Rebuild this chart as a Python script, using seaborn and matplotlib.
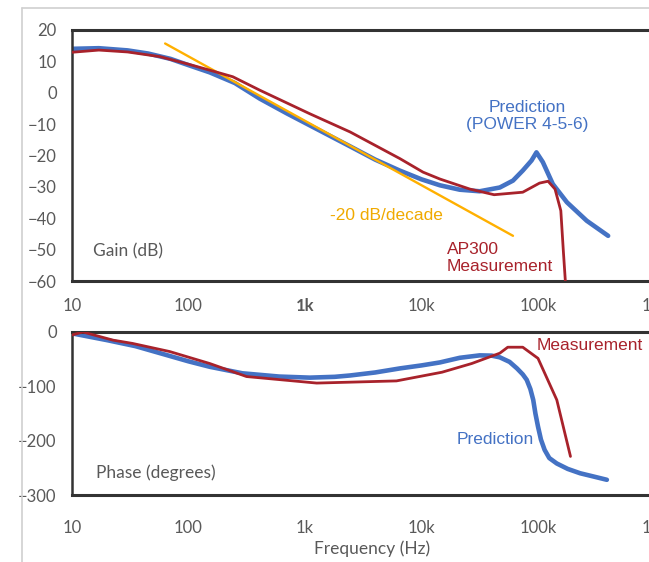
import numpy as np
import pandas as pd
import matplotlib
matplotlib.use("Agg")
import matplotlib.pyplot as plt
from matplotlib.lines import Line2D
import seaborn as sns

# ---------------- data ----------------
gain_pred_f = [10, 17, 30, 45, 70, 100, 152, 250, 410, 700, 1100, 2500, 4000, 6500, 10000, 14400,
               21300, 31600, 47000, 61000, 74000, 88000, 97000, 110000, 134000, 177000, 262000, 400000]
gain_pred_db = [14, 14.2, 13.5, 12.5, 10.8, 8.8, 6.5, 3.1, -1.9, -6.6, -10.4, -17.3, -21.3, -24.8, -27.6, -29.5,
                -30.9, -31.4, -30.2, -28.0, -24.8, -21.6, -19.0, -22.1, -29.1, -34.9, -40.8, -45.6]

gain_meas_f = [10, 17, 30, 57, 100, 152, 240, 410, 1100, 2440, 6530, 10300, 14400, 26000, 42000,
               74000, 103000, 122000, 140000, 157000, 165000, 176000]
gain_meas_db = [12.9, 13.6, 13.0, 11.5, 9.1, 7.2, 5.1, 0.8, -6.7, -12.5, -21.0, -25.3, -27.5, -30.7, -32.5,
                -31.7, -28.8, -28.2, -30.7, -37.6, -50.4, -66.0]

slope_f = [63, 61000]
slope_db = [15.7, -45.6]

phase_pred_f = [10, 20, 35, 57, 100, 152, 290, 600, 1100, 1800, 2440, 4000, 6530, 10000, 14400, 21300,
                31600, 40000, 47000, 57000, 66000, 74000, 80000, 86000, 91000, 95000, 100000, 106000,
                114000, 125000, 145000, 180000, 230000, 300000, 390000]
phase_pred_deg = [-2.5, -15, -26, -39, -54, -64, -76, -82, -84, -82.5, -80, -74.5, -67, -61.5, -56, -47.5,
                  -43, -43.5, -46.6, -55, -67, -78, -88, -105, -125, -150, -174, -198,
                  -217, -232, -242, -252, -260, -266, -272]

phase_meas_f = [10, 12.4, 22.5, 33, 69, 152, 315, 1260, 6100, 15000, 27000, 47000, 55000, 74000,
                100000, 145000, 190000]
phase_meas_deg = [-5.5, 0, -15, -21, -36, -58, -82, -94, -90, -74, -58, -39, -28, -28,
                  -48.5, -125, -229]

xtick_vals = [10, 100, 1000, 10000, 100000, 1000000]
xtick_labels = ["10", "100", "1k", "10k", "100k", "1M"]
gain_ticks = [20, 10, 0, -10, -20, -30, -40, -50, -60]
phase_ticks = [0, -100, -200, -300]

# ---------------- style ----------------
sns.set_style("white")
plt.rcParams["font.family"] = ["Lato", "DejaVu Sans"]

BLUE = "#4472C4"
RED = "#A8222B"
ORANGE = "#FFB000"
GRAY = "#595959"
SPINE = "#333333"
ANN = "Liberation Sans"

W, H = 649, 562
fig = plt.figure(figsize=(W / 100, H / 100), dpi=100)

def ax_rect(left_px, top_px, right_px, bottom_px):
    return [left_px / W, 1 - bottom_px / H, (right_px - left_px) / W, (bottom_px - top_px) / H]

ax1 = fig.add_axes(ax_rect(72, 30, 654.5, 281))
ax2 = fig.add_axes(ax_rect(72, 332, 654.5, 495))

df_gp = pd.DataFrame({"f": gain_pred_f, "v": gain_pred_db})
df_gm = pd.DataFrame({"f": gain_meas_f, "v": gain_meas_db})
df_sl = pd.DataFrame({"f": slope_f, "v": slope_db})
df_pp = pd.DataFrame({"f": phase_pred_f, "v": phase_pred_deg})
df_pm = pd.DataFrame({"f": phase_meas_f, "v": phase_meas_deg})

sns.lineplot(data=df_sl, x="f", y="v", ax=ax1, color=ORANGE, lw=1.7, zorder=3)
sns.lineplot(data=df_gp, x="f", y="v", ax=ax1, color=BLUE, lw=3.3, zorder=2,
             solid_capstyle="round", solid_joinstyle="round")
sns.lineplot(data=df_gm, x="f", y="v", ax=ax1, color=RED, lw=2.0, zorder=4)

sns.lineplot(data=df_pp, x="f", y="v", ax=ax2, color=BLUE, lw=3.3, zorder=2,
             solid_capstyle="round", solid_joinstyle="round")
sns.lineplot(data=df_pm, x="f", y="v", ax=ax2, color=RED, lw=2.0, zorder=4)

for ax, lo, hi, ticks in [(ax1, -60, 20, gain_ticks), (ax2, -300, 0, phase_ticks)]:
    ax.set_xscale("log")
    ax.set_xlim(10, 1e6)
    ax.set_ylim(lo, hi)
    ax.set_xticks(xtick_vals)
    ax.set_xticklabels(xtick_labels)
    ax.minorticks_off()
    ax.set_yticks(ticks)
    ax.set_xlabel("")
    ax.set_ylabel("")
    ax.tick_params(length=0, labelsize=12, labelcolor=GRAY)
    ax.tick_params(axis="y", pad=11)
    for s in ax.spines.values():
        s.set_color(SPINE)
        s.set_linewidth(2.2)
    ax.spines["left"].set_linewidth(1.8)
    ax.grid(False)

ax1.tick_params(axis="x", pad=12)
ax2.tick_params(axis="x", pad=18)
for lbl in ax1.get_xticklabels():
    if lbl.get_text() == "1k":
        lbl.set_fontweight("bold")

# ---------------- annotations ----------------
ax1.text(0.036, 0.12, "Gain (dB)", transform=ax1.transAxes, fontsize=12.5, color=GRAY,
         ha="left", va="center")
ax2.text(0.041, 0.135, "Phase (degrees)", transform=ax2.transAxes, fontsize=12.5, color=GRAY,
         ha="left", va="center")

fig.text(527 / W, 1 - 116 / H, "Prediction\n(POWER 4-5-6)", color=BLUE, fontsize=12.5,
         family=ANN, ha="center", va="center", linespacing=1.15)
fig.text(330 / W, 1 - 215 / H, "-20 dB/decade", color="#F0AA00", fontsize=12.5,
         family=ANN, ha="left", va="center")
fig.text(447 / W, 1 - 258 / H, "AP300\nMeasurement", color=RED, fontsize=12.5,
         family=ANN, ha="left", va="center", linespacing=1.15)
fig.text(537 / W, 1 - 345 / H, "Measurement", color=RED, fontsize=12.5,
         family=ANN, ha="left", va="center")
fig.text(457 / W, 1 - 440 / H, "Prediction", color=BLUE, fontsize=12.5,
         family=ANN, ha="left", va="center")
fig.text(372 / W, 1 - 549 / H, "Frequency (Hz)", color=GRAY, fontsize=12.5,
         ha="center", va="center")

# light border of the chart area
fig.add_artist(Line2D([22 / W, 22 / W], [0, 1 - 8 / H], transform=fig.transFigure,
                      color="#D0D0D0", lw=1.2))
fig.add_artist(Line2D([22 / W, 1], [1 - 8 / H, 1 - 8 / H], transform=fig.transFigure,
                      color="#D0D0D0", lw=1.2))

fig.savefig("out.png", dpi=100, facecolor="white")
